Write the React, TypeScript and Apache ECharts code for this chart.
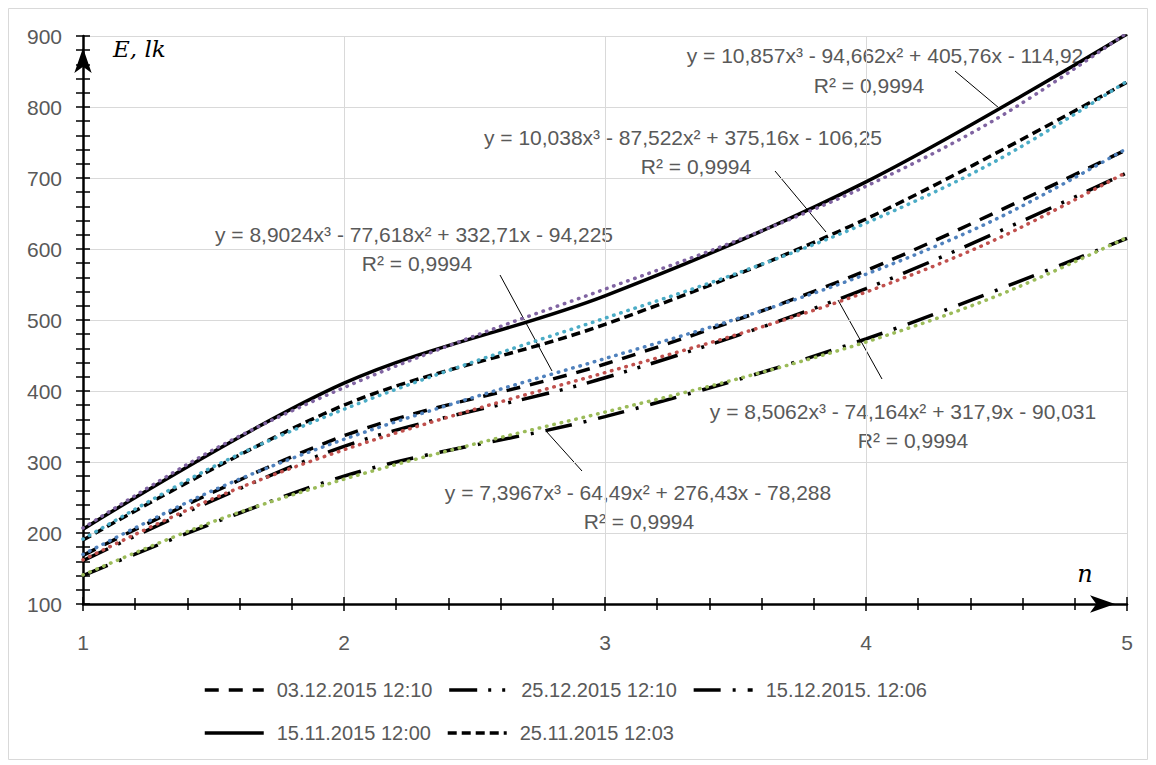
import React, { useEffect, useRef } from "react";
import * as echarts from "echarts";

// n values (x axis)
const nValues = [1, 2, 3, 4, 5];

const seriesNames = [
  "03.12.2015 12:10",
  "25.12.2015 12:10",
  "15.12.2015. 12:06",
  "15.11.2015 12:00",
  "25.11.2015 12:03",
];

// Measured illuminance E, lk
const illum0312 = [168.5, 337.0, 438.0, 569.6, 740.4];
const illum2512 = [161.0, 322.1, 418.6, 544.2, 707.4];
const illum1512 = [139.9, 280.1, 363.9, 473.3, 615.1];
const illum1511 = [205.4, 411.0, 534.1, 694.6, 902.9];
const illum2511 = [190.0, 380.1, 493.9, 642.3, 834.9];

// Polynomial trend lines
const trendX = [1, 1.5, 2, 2.5, 3, 3.5, 4, 4.5, 5];
const trend0312 = [169.8, 260.2, 331.9, 391.5, 445.7, 501.1, 564.5, 642.4, 741.7];
const trend2512 = [162.2, 248.7, 317.2, 374.1, 425.9, 478.8, 539.3, 613.8, 708.6];
const trend1512 = [141.0, 216.2, 275.8, 325.3, 370.3, 416.3, 469.0, 533.7, 616.2];
const trend1511 = [207.0, 317.4, 404.8, 477.5, 543.5, 611.1, 688.4, 783.4, 904.5];
const trend2511 = [191.4, 293.4, 374.3, 441.5, 502.6, 565.0, 636.5, 724.4, 836.3];

const trendEquations = [
  "y = 10,857x³ - 94,662x² + 405,76x - 114,92",
  "y = 10,038x³ - 87,522x² + 375,16x - 106,25",
  "y = 8,9024x³ - 77,618x² + 332,71x - 94,225",
  "y = 8,5062x³ - 74,164x² + 317,9x - 90,031",
  "y = 7,3967x³ - 64,49x² + 276,43x - 78,288",
];
const trendR2 = "R² = 0,9994";

const yTicks = { min: 100, max: 900, step: 100 };
const xTicks = { min: 1, max: 5, step: 1 };

export default function App() {
  const ref = useRef<HTMLDivElement>(null);

  useEffect(() => {
    const chart = echarts.init(ref.current!, null, { renderer: "svg" });
    const font = "'Liberation Sans', Arial, sans-serif";
    const gray = "#595959";
    const tickLine = { color: "#000", width: 1.5 };
    const pairs = (xs: number[], ys: number[]) => xs.map((x, i) => [x, ys[i]]);

    const measured = [
      { name: seriesNames[0], values: illum0312, dash: [14, 10] },
      { name: seriesNames[1], values: illum2512, dash: [28, 11, 3, 11, 3, 11] },
      { name: seriesNames[2], values: illum1512, dash: [27, 12, 3, 12] },
      { name: seriesNames[3], values: illum1511, dash: "solid" },
      { name: seriesNames[4], values: illum2511, dash: [9, 5] },
    ];
    const trends = [
      { values: trend0312, color: "#4F81BD" },
      { values: trend2512, color: "#C0504D" },
      { values: trend1512, color: "#9BBB59" },
      { values: trend1511, color: "#8064A2" },
      { values: trend2511, color: "#4BACC6" },
    ];

    const series: any[] = [
      ...measured.map((m) => ({
        type: "line",
        name: m.name,
        data: pairs(nValues, m.values),
        smooth: 0.33,
        symbol: "none",
        showSymbol: false,
        lineStyle: { color: "#000", width: 3.5, type: m.dash, cap: "butt" },
        itemStyle: { color: "#000" },
        z: 3,
      })),
      ...trends.map((t, i) => ({
        type: "line",
        name: "trend " + (i + 1),
        data: pairs(trendX, t.values),
        smooth: 0.33,
        symbol: "none",
        showSymbol: false,
        silent: true,
        lineStyle: { color: t.color, width: 3.5, type: [0.5, 7], cap: "round" },
        itemStyle: { color: t.color },
        z: 4,
      })),
    ];

    const labelText = (x: number, y: number, text: string) => ({
      type: "text",
      x,
      y,
      style: {
        text,
        fill: gray,
        font: `21px ${font}`,
        textAlign: "center",
        textVerticalAlign: "middle",
      },
    });
    const leader = (x1: number, y1: number, x2: number, y2: number) => ({
      type: "line",
      shape: { x1, y1, x2, y2 },
      style: { stroke: "#000", lineWidth: 1 },
    });

    // label centres [x line1, y line1, x line2, y line2] in chart-div pixels
    const labelPos = [
      [877, 47, 861, 77],
      [675, 129, 688, 158],
      [406, 226, 409, 255],
      [895, 403, 905, 432],
      [630, 484, 631, 513],
    ];
    const graphicEls: any[] = [
      {
        type: "rect",
        shape: { x: 0.5, y: 0.5, width: 1139, height: 751 },
        style: { fill: "none", stroke: "#d9d9d9", lineWidth: 1 },
        silent: true,
      },
      {
        type: "text",
        x: 105,
        y: 41,
        style: {
          text: "E, lk",
          fill: "#000",
          font: "italic 23px 'DejaVu Serif', serif",
          textVerticalAlign: "middle",
        },
      },
      {
        type: "text",
        x: 1077,
        y: 566,
        style: {
          text: "n",
          fill: "#000",
          font: "italic 24px 'DejaVu Serif', serif",
          textAlign: "center",
          textVerticalAlign: "middle",
        },
      },
      leader(947, 63, 991, 100),
      leader(767, 163, 818, 224),
      leader(492, 267, 544, 363),
      leader(830, 292, 874, 371),
      leader(574, 463, 538, 423),
    ];
    trendEquations.forEach((eq, i) => {
      const [x1, y1, x2, y2] = labelPos[i];
      graphicEls.push(labelText(x1, y1, eq));
      graphicEls.push(labelText(x2, y2, trendR2));
    });

    const legendCommon = {
      left: 195,
      padding: 0,
      orient: "horizontal",
      itemWidth: 59,
      itemHeight: 14,
      itemGap: 15,
      selectedMode: false,
      itemStyle: { opacity: 0 },
      lineStyle: { width: 3.5 },
      textStyle: { fontFamily: font, fontSize: 20, color: gray, lineHeight: 24, padding: [0, 0, 0, 8] },
    };

    chart.setOption({
      animation: false,
      backgroundColor: "#fff",
      grid: { left: 75, right: 21, top: 28, bottom: 156, containLabel: false },
      legend: [
        { ...legendCommon, top: 670, data: seriesNames.slice(0, 3) },
        { ...legendCommon, top: 713, data: seriesNames.slice(3) },
      ],
      xAxis: [
        {
          type: "value",
          min: xTicks.min,
          max: xTicks.max,
          interval: xTicks.step,
          position: "bottom",
          axisLine: {
            show: true,
            onZero: false,
            symbol: ["none", "arrow"],
            symbolSize: [13, 25],
            symbolOffset: [0, -12],
            lineStyle: { color: "#000", width: 2.5 },
          },
          axisTick: { show: true, length: 7, lineStyle: tickLine },
          minorTick: { show: true, splitNumber: 5, length: 6, lineStyle: tickLine },
          axisLabel: { fontFamily: font, fontSize: 21, color: gray, margin: 28 },
          splitLine: { show: true, lineStyle: { color: "#d9d9d9", width: 1 } },
        },
        {
          type: "value",
          min: xTicks.min,
          max: xTicks.max,
          interval: xTicks.step,
          position: "bottom",
          axisLine: { show: false, onZero: false },
          axisTick: { show: true, inside: true, length: 7, lineStyle: tickLine },
          minorTick: { show: true, splitNumber: 5, length: 6, lineStyle: tickLine },
          axisLabel: { show: false },
          splitLine: { show: false },
        },
      ],
      yAxis: [
        {
          type: "value",
          min: yTicks.min,
          max: yTicks.max,
          interval: yTicks.step,
          position: "left",
          axisLine: {
            show: true,
            onZero: false,
            symbol: ["none", "arrow"],
            symbolSize: [13, 25],
            symbolOffset: [0, -12],
            lineStyle: { color: "#000", width: 2.5 },
          },
          axisTick: { show: true, length: 7, lineStyle: tickLine },
          minorTick: { show: true, splitNumber: 5, length: 7, lineStyle: tickLine },
          axisLabel: { fontFamily: font, fontSize: 21, color: gray, margin: 21 },
          splitLine: { show: true, lineStyle: { color: "#d9d9d9", width: 1 } },
        },
        {
          type: "value",
          min: yTicks.min,
          max: yTicks.max,
          interval: yTicks.step,
          position: "left",
          axisLine: { show: false, onZero: false },
          axisTick: { show: true, inside: true, length: 7, lineStyle: tickLine },
          minorTick: { show: true, splitNumber: 5, length: 7, lineStyle: tickLine },
          axisLabel: { show: false },
          splitLine: { show: false },
        },
      ],
      series,
      graphic: graphicEls,
    });

    return () => chart.dispose();
  }, []);

  return <div ref={ref} style={{ width: 1140, height: 752 }} />;
}
